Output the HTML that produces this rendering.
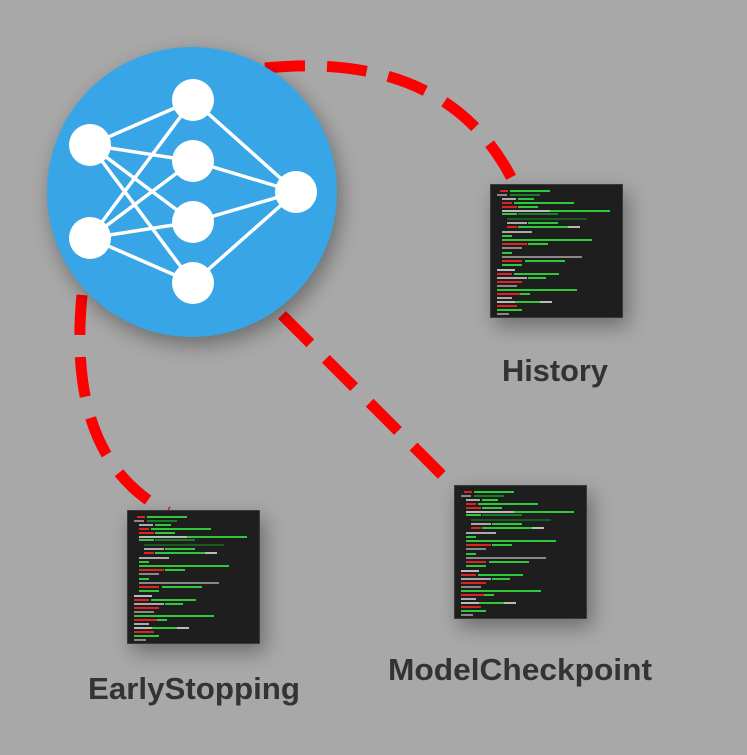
<!DOCTYPE html>
<html><head><style>body{margin:0;background:#a8a8a8;}</style></head><body>
<svg width="747" height="750" viewBox="0 0 747 750" xmlns="http://www.w3.org/2000/svg">
<defs>
<filter id="sh" x="-50%" y="-50%" width="200%" height="200%"><feGaussianBlur stdDeviation="10"/></filter>
<symbol id="code" viewBox="0 0 133 134">
<rect width="133" height="134" fill="#1e1e1e" stroke="#555" stroke-width="1"/>
<g fill="#2fc83a">
<rect x="10" y="6" width="8" height="2" fill="#d22"/><rect x="20" y="6" width="40" height="2"/>
<rect x="7" y="10" width="10" height="2" fill="#888"/><rect x="20" y="10" width="30" height="2" fill="#1a7a25"/>
<rect x="12" y="14" width="14" height="2" fill="#aaa"/><rect x="28" y="14" width="16" height="2"/>
<rect x="12" y="18" width="10" height="2" fill="#d22"/><rect x="24" y="18" width="60" height="2"/>
<rect x="12" y="22" width="15" height="2" fill="#d22"/><rect x="28" y="22" width="20" height="2"/>
<rect x="12" y="26" width="60" height="2" fill="#bbb"/><rect x="60" y="26" width="60" height="2"/>
<rect x="12" y="29" width="15" height="2"/><rect x="28" y="29" width="40" height="2" fill="#1a7a25"/>
<rect x="17" y="34" width="80" height="2" fill="#1a5a20"/>
<rect x="17" y="38" width="20" height="2" fill="#aaa"/><rect x="38" y="38" width="30" height="2"/>
<rect x="17" y="42" width="10" height="2" fill="#d22"/><rect x="28" y="42" width="50" height="2"/><rect x="78" y="42" width="12" height="2" fill="#bbb"/>
<rect x="12" y="47" width="30" height="2" fill="#aaa"/><rect x="12" y="51" width="10" height="2"/>
<rect x="12" y="55" width="90" height="2"/><rect x="12" y="59" width="25" height="2" fill="#d22"/><rect x="38" y="59" width="20" height="2"/>
<rect x="12" y="63" width="20" height="2" fill="#888"/><rect x="12" y="68" width="10" height="2"/>
<rect x="12" y="72" width="80" height="2" fill="#888"/><rect x="12" y="76" width="20" height="2" fill="#d22"/><rect x="35" y="76" width="40" height="2"/>
<rect x="12" y="80" width="20" height="2"/>
<rect x="7" y="85" width="18" height="2" fill="#bbb"/><rect x="7" y="89" width="15" height="2" fill="#d22"/><rect x="24" y="89" width="45" height="2"/>
<rect x="7" y="93" width="30" height="2" fill="#aaa"/><rect x="38" y="93" width="18" height="2"/>
<rect x="7" y="97" width="25" height="2" fill="#d22"/><rect x="7" y="101" width="20" height="2" fill="#888"/>
<rect x="7" y="105" width="80" height="2"/><rect x="7" y="109" width="30" height="2" fill="#d22"/><rect x="30" y="109" width="10" height="2"/>
<rect x="7" y="113" width="15" height="2" fill="#aaa"/><rect x="7" y="117" width="55" height="2" fill="#bbb"/><rect x="25" y="117" width="25" height="2"/>
<rect x="7" y="121" width="20" height="2" fill="#d22"/><rect x="7" y="125" width="25" height="2"/>
<rect x="7" y="129" width="12" height="2" fill="#888"/>
</g>
</symbol>
</defs>
<g fill="none" stroke="#ff0000" stroke-width="11" stroke-dasharray="40 22">
<path d="M265,68 Q450,50 515,185"/>
<path d="M82,295 Q66,460 168,512"/>
<path d="M282,315 L460,493"/>
</g>
<circle cx="196" cy="200" r="145" fill="#000" opacity="0.35" filter="url(#sh)"/>
<circle cx="192" cy="192" r="145" fill="#38a6e6"/>
<g stroke="#fff" stroke-width="3.5">
<line x1="90" y1="145" x2="193" y2="100"/><line x1="90" y1="145" x2="193" y2="161"/><line x1="90" y1="145" x2="193" y2="222"/><line x1="90" y1="145" x2="193" y2="283"/>
<line x1="90" y1="238" x2="193" y2="100"/><line x1="90" y1="238" x2="193" y2="161"/><line x1="90" y1="238" x2="193" y2="222"/><line x1="90" y1="238" x2="193" y2="283"/>
<line x1="296" y1="192" x2="193" y2="100"/><line x1="296" y1="192" x2="193" y2="161"/><line x1="296" y1="192" x2="193" y2="222"/><line x1="296" y1="192" x2="193" y2="283"/>
</g>
<g fill="#fff">
<circle cx="90" cy="145" r="21"/><circle cx="90" cy="238" r="21"/>
<circle cx="193" cy="100" r="21"/><circle cx="193" cy="161" r="21"/><circle cx="193" cy="222" r="21"/><circle cx="193" cy="283" r="21"/>
<circle cx="296" cy="192" r="21"/>
</g>
<g fill="#000" opacity="0.35" filter="url(#sh)">
<rect x="495" y="192" width="133" height="134"/><rect x="459" y="493" width="133" height="134"/><rect x="132" y="518" width="133" height="134"/>
</g>
<use href="#code" x="490" y="184" width="133" height="134"/>
<use href="#code" x="454" y="485" width="133" height="134"/>
<use href="#code" x="127" y="510" width="133" height="134"/>
<g font-family="Liberation Sans, sans-serif" font-weight="bold" font-size="31" fill="#333">
<text x="502" y="381" textLength="106" lengthAdjust="spacingAndGlyphs">History</text>
<text x="388" y="680" textLength="264" lengthAdjust="spacingAndGlyphs">ModelCheckpoint</text>
<text x="88" y="699" textLength="212" lengthAdjust="spacingAndGlyphs">EarlyStopping</text>
</g>
</svg>
</body></html>
